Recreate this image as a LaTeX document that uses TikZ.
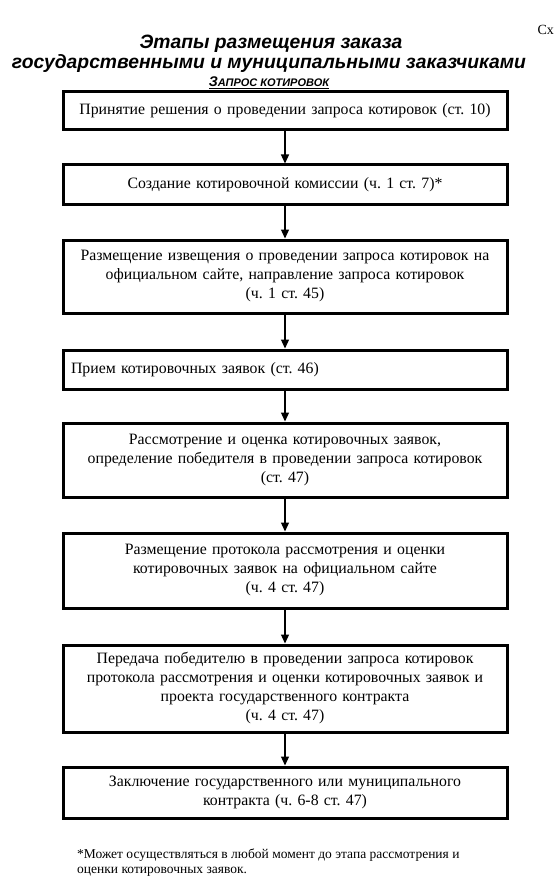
\documentclass[tikz,border=0pt]{standalone}
\usepackage{fontspec}
\setmainfont{Liberation Serif}
\newfontfamily\titlefont{Liberation Sans}
\usetikzlibrary{arrows.meta}
\frenchspacing
\begin{document}
\begin{tikzpicture}[x=1pt,y=-1pt,
  stepbox/.style={draw,line width=3pt,minimum width=444pt,text width=428pt,align=center,inner sep=0pt,
    font=\fontsize{15.8}{19}\selectfont},
  flow/.style={-{Triangle[length=9pt,width=8pt]},line width=1.3pt}]
\useasboundingbox (0,0) rectangle (554,896);
\node[anchor=west,font=\fontsize{14}{14}\selectfont] (sx) at (534,30) {Сх};
\node[font=\titlefont\bfseries\itshape\fontsize{19.3}{19}\selectfont] (t1) at (271,44) {Этапы размещения заказа};
\node[font=\titlefont\bfseries\itshape\fontsize{19.3}{19}\selectfont] (t2) at (269,64) {государственными и муниципальными заказчиками};
\node[font=\titlefont\bfseries\itshape,inner sep=0pt] (t3) at (269,83) {\underline{{\fontsize{14}{14}\selectfont З}{\fontsize{11}{11}\selectfont АПРОС КОТИРОВОК}}};

\node[stepbox,minimum height=38pt] (b1) at (285,111) {Принятие решения о проведении запроса котировок (ст. 10)};
\node[stepbox,minimum height=39pt] (b2) at (285,184.5) {Создание котировочной комиссии (ч. 1 ст. 7)*};
\node[stepbox,minimum height=73pt] (b3) at (285,276.5) {Размещение извещения о проведении запроса котировок на\\ официальном сайте, направление запроса котировок\\ (ч. 1 ст. 45)};
\node[stepbox,minimum height=39pt,align=left] (b4) at (285,369.5) {Прием котировочных заявок (ст. 46)};
\node[stepbox,minimum height=74pt] (b5) at (285,460) {Рассмотрение и оценка котировочных заявок,\\ определение победителя в проведении запроса котировок\\ (ст. 47)};
\node[stepbox,minimum height=75pt] (b6) at (285,570.5) {Размещение протокола рассмотрения и оценки\\ котировочных заявок на официальном сайте\\ (ч. 4 ст. 47)};
\node[stepbox,minimum height=87pt] (b7) at (285,688.5) {Передача победителю в проведении запроса котировок\\ протокола рассмотрения и оценки котировочных заявок и\\ проекта государственного контракта\\ (ч. 4 ст. 47)};
\node[stepbox,minimum height=51pt] (b8) at (285,792.5) {Заключение государственного или муниципального\\ контракта (ч. 6-8 ст. 47)};

\foreach \a/\b in {b1/b2,b2/b3,b3/b4,b4/b5,b5/b6,b6/b7,b7/b8}
  \draw[flow] (\a.south) -- (\b.north);

\node[anchor=north west,align=left,inner sep=0pt,font=\fontsize{13.5}{15}\selectfont] (fn) at (77,849) {*Может осуществляться в любой момент до этапа рассмотрения и\\ оценки котировочных заявок.};
\end{tikzpicture}
\end{document}
